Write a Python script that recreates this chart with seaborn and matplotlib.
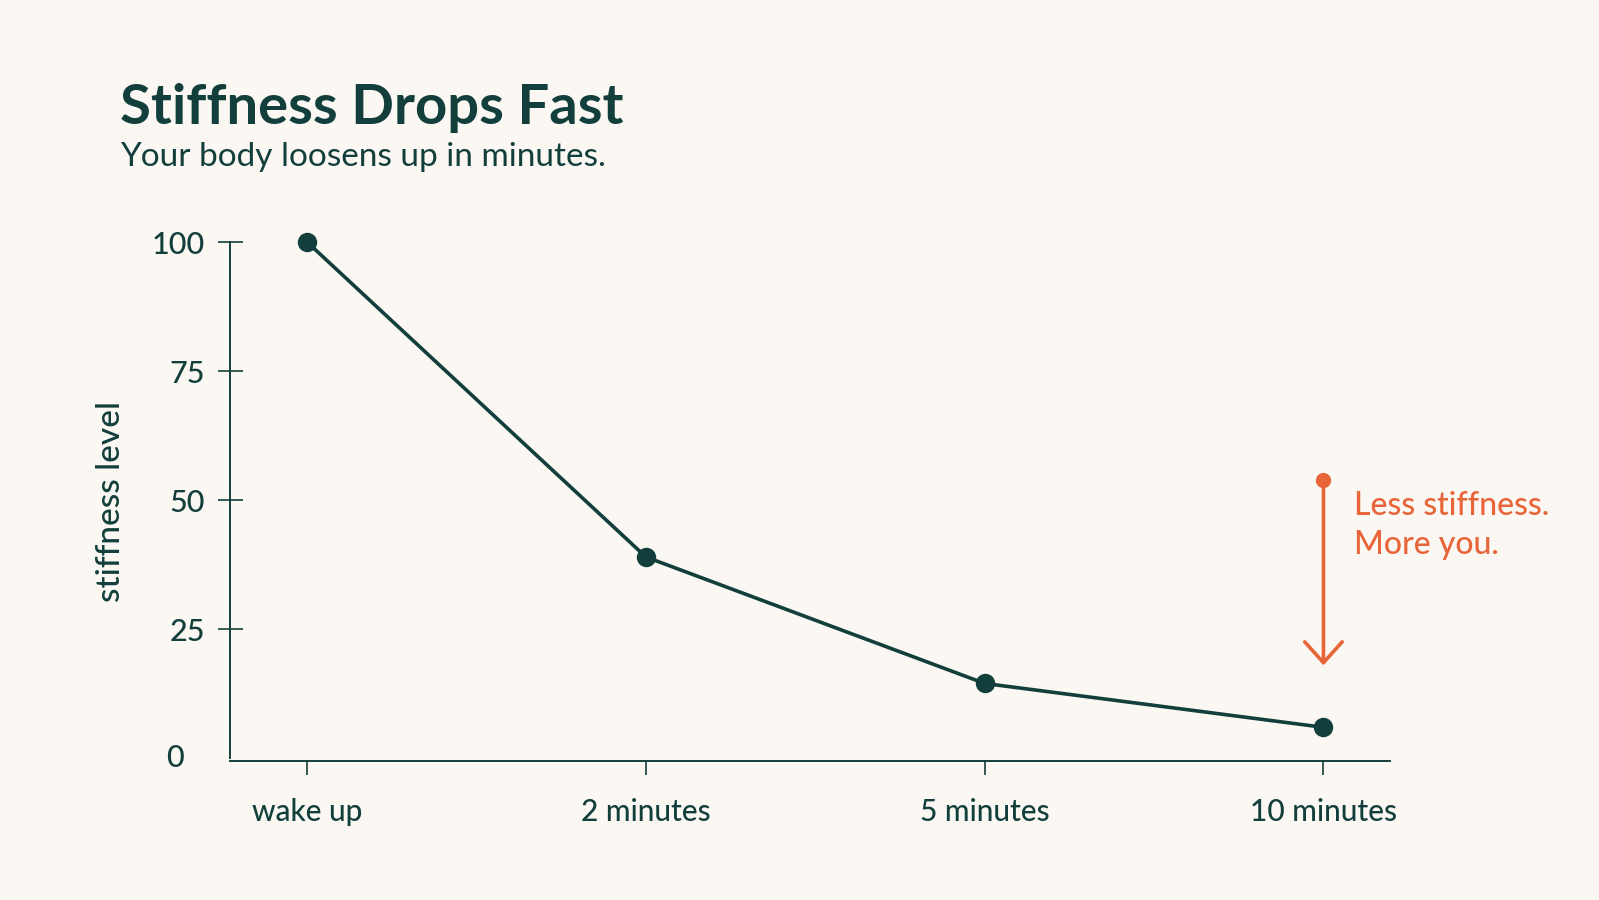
import seaborn as sns
import matplotlib.pyplot as plt
import pandas as pd

# data
stages = ["wake up", "2 minutes", "5 minutes", "10 minutes"]
stiffness = [100, 39, 14.5, 6]
y_ticks = [0, 25, 50, 75, 100]
arrow_from, arrow_to = 54, 18

BG = "#fbf8f3"
TEAL = "#123f3b"
ORANGE = "#e8653a"

sns.set_theme(style="white")
plt.rcParams["font.family"] = ["Lato", "DejaVu Sans"]
plt.rcParams["figure.facecolor"] = BG
plt.rcParams["axes.facecolor"] = BG

df = pd.DataFrame({"stage": stages, "stiffness": stiffness})

fig = plt.figure(figsize=(15.99, 9), dpi=100)
ax = fig.add_axes([0.144, 0.154, 0.725, 0.577])

sns.lineplot(data=df, x="stage", y="stiffness", ax=ax, color=TEAL, linewidth=2.6,
             marker="o", markersize=14, markeredgewidth=0, sort=False, clip_on=False)

ax.set_xlim(-0.227, 3.195)
ax.set_ylim(-0.6, 100)
ax.set_yticks(y_ticks[1:])
ax.set_xlabel("")
ax.set_ylabel("stiffness level", fontsize=24, color=TEAL, fontweight="medium")
ax.yaxis.set_label_coords(-0.09, 0.5)
ax.text(-0.04, 0, "0", transform=ax.get_yaxis_transform(), ha="right", va="center",
        fontsize=22, color=TEAL, fontweight="medium")

for s in ["top", "right"]:
    ax.spines[s].set_visible(False)
for s in ["left", "bottom"]:
    ax.spines[s].set_color(TEAL)
    ax.spines[s].set_linewidth(1.4)
ax.spines["left"].set_bounds(0, 100)

ax.tick_params(axis="y", direction="inout", length=18, width=1.2, color=TEAL,
               labelcolor=TEAL, labelsize=22, pad=9, left=True)
ax.tick_params(axis="x", direction="out", length=10, width=1.2, color=TEAL,
               labelcolor=TEAL, labelsize=21.5, pad=16, bottom=True)
for lab in ax.get_xticklabels() + ax.get_yticklabels():
    lab.set_fontweight("medium")

# callout arrow at the last stage
last = len(stages) - 1
ax.plot([last], [arrow_from], "o", color=ORANGE, markersize=10, clip_on=False)
ax.annotate("", xy=(last, arrow_to), xytext=(last, arrow_from),
            arrowprops=dict(arrowstyle="->,head_width=0.45,head_length=0.5",
                            color=ORANGE, lw=2.6, mutation_scale=30,
                            shrinkA=0, shrinkB=0))
ax.text(last + 0.09, 51.8, "Less stiffness.\nMore you.", color=ORANGE, fontsize=23,
        fontweight="medium", ha="left", va="top", linespacing=1.38)

fig.text(0.075, 0.88, "Stiffness Drops Fast", fontsize=40.5, fontweight="bold",
         color=TEAL, ha="left", va="center")
fig.text(0.075, 0.826, "Your body loosens up in minutes.", fontsize=24,
         color=TEAL, ha="left", va="center")

fig.savefig("out.png", dpi=100, facecolor=BG)
